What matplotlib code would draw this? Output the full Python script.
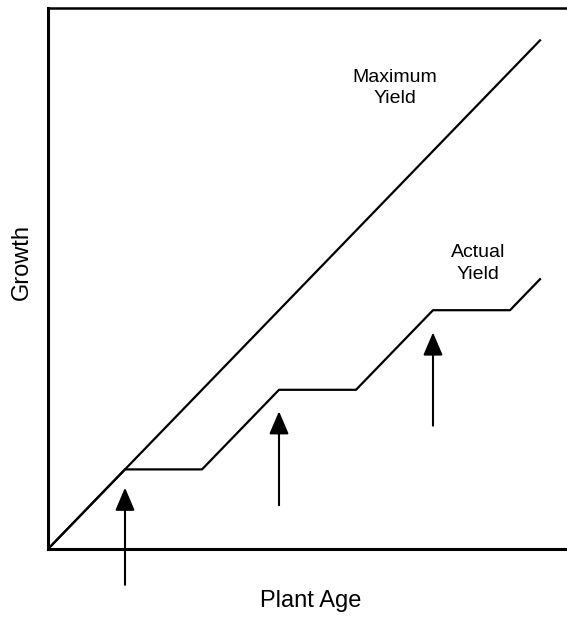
import matplotlib.pyplot as plt

plt.rcParams['font.family'] = ['Liberation Sans', 'DejaVu Sans']

# plant age (x) and growth (y), arbitrary units
max_age = [0, 6.4]
max_growth = [0, 6.4]

actual_age = [0, 1, 2, 3, 4, 5, 6, 6.4]
actual_growth = [0, 1, 1, 2, 2, 3, 3, 3.4]

# arrows marking the stress events
arrow_age = [1, 3, 5]
arrow_tail = [-0.45, 0.55, 1.55]
arrow_tip = [0.77, 1.73, 2.72]

fig = plt.figure(figsize=(5.67, 6.17), dpi=100)
ax = fig.add_axes([48 / 567, 1 - 549 / 617, 1 - 48 / 567, 541 / 617])

ax.plot(max_age, max_growth, color='black', lw=1.6, solid_capstyle='butt')
ax.plot(actual_age, actual_growth, color='black', lw=1.6, solid_capstyle='butt')

for x, y0, y1 in zip(arrow_age, arrow_tail, arrow_tip):
    ax.annotate('', xy=(x, y1), xytext=(x, y0), annotation_clip=False,
                arrowprops=dict(arrowstyle='-|>,head_length=1.4,head_width=0.6',
                                mutation_scale=10, lw=1.5, color='black',
                                shrinkA=0, shrinkB=0))

ax.text(4.5, 5.79, 'Maximum\nYield', ha='center', va='center', fontsize=14,
        linespacing=1.35)
ax.text(5.58, 3.59, 'Actual\nYield', ha='center', va='center', fontsize=14,
        linespacing=1.35)

ax.set_xlim(0, 519 / 77)
ax.set_ylim(0, 541 / 79.6)
ax.set_xticks([])
ax.set_yticks([])
ax.spines['right'].set_visible(False)
for s in ['left', 'bottom']:
    ax.spines[s].set_linewidth(2.2)
ax.spines['top'].set_linewidth(1.8)

ax.set_xlabel('Plant Age', fontsize=17, va='center')
ax.xaxis.set_label_coords(0.507, -0.096)
ax.set_ylabel('Growth', fontsize=17, va='center')
ax.yaxis.set_label_coords(-0.05, 0.53)

plt.savefig('out.png', dpi=100)
